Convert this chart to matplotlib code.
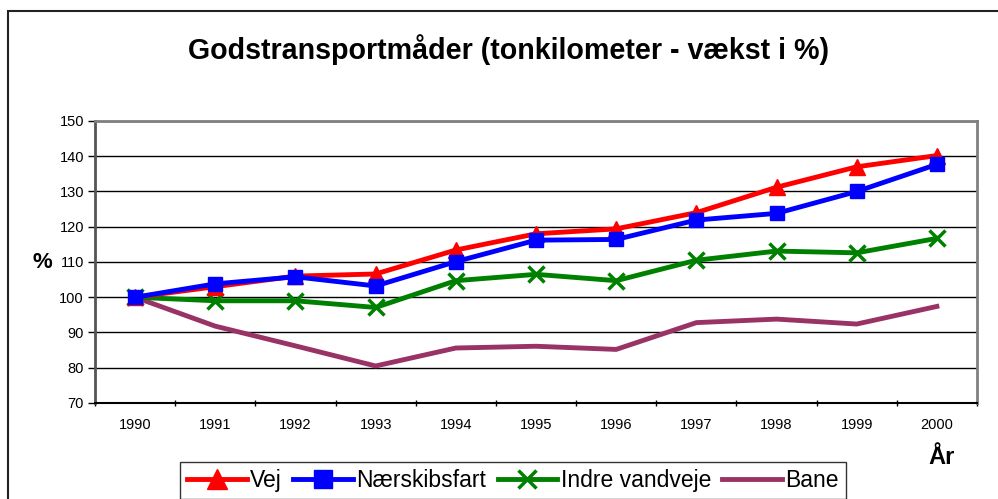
import numpy as np
import matplotlib.pyplot as plt
from matplotlib.patches import Rectangle

plt.rcParams['font.family'] = ['Liberation Sans', 'DejaVu Sans']

aar = ['1990', '1991', '1992', '1993', '1994', '1995', '1996', '1997', '1998', '1999', '2000']
vej = [100, 103.0, 106.0, 106.6, 113.4, 118.0, 119.4, 124.0, 131.2, 137.0, 140.2]
naerskibsfart = [100, 103.8, 105.8, 103.2, 110.1, 116.2, 116.4, 121.9, 123.8, 130.0, 137.7]
indre_vandveje = [100, 99.0, 99.0, 97.1, 104.7, 106.5, 104.7, 110.5, 113.1, 112.6, 116.7]
bane = [100, 91.8, 86.2, 80.5, 85.6, 86.1, 85.2, 92.8, 93.8, 92.4, 97.4]

W, H = 998, 499
fig = plt.figure(figsize=(W / 100, H / 100), dpi=100)

# ydre ramme (kun venstre og top synlige)
fig.patches.append(Rectangle((8 / W, -0.1), 1.2, 1.1 - 11 / H, transform=fig.transFigure,
                             fill=False, edgecolor='#222222', linewidth=1.5))

ax = fig.add_axes([95 / W, 1 - 403 / H, (977 - 95) / W, (403 - 121) / H])
x = np.arange(len(aar))

ax.plot(x, vej, color='#ff0000', lw=3.5, marker='^', ms=12, label='Vej', zorder=4)
ax.plot(x, naerskibsfart, color='#0000ff', lw=3.5, marker='s', ms=10.5, label='Nærskibsfart', zorder=5)
ax.plot(x, indre_vandveje, color='#008000', lw=3.5, marker='x', ms=11, mew=2.5, label='Indre vandveje', zorder=3)
ax.plot(x, bane, color='#993366', lw=3.5, label='Bane', zorder=2)

ax.set_xlim(-0.5, len(aar) - 0.5)
ax.set_ylim(70, 150)
ax.set_yticks(np.arange(70, 151, 10))
ax.yaxis.grid(True, color='black', lw=1)
ax.set_axisbelow(True)

# tick-streger mellem kategorierne, labels i midten
ax.set_xticks(np.arange(-0.5, len(aar), 1))
ax.set_xticklabels([])
ax.set_xticks(x, minor=True)
ax.set_xticklabels(aar, minor=True)
ax.tick_params(axis='x', which='major', length=5, direction='inout', width=1)
ax.tick_params(axis='x', which='minor', length=0, pad=11, labelsize=10.5)
ax.tick_params(axis='y', length=5, width=1, labelsize=10.5, pad=3)

for side in ['top', 'right']:
    ax.spines[side].set_color('#808080')
    ax.spines[side].set_linewidth(2)
ax.spines['left'].set_color('#555555')
ax.spines['left'].set_linewidth(2)
ax.spines['bottom'].set_color('black')
ax.spines['bottom'].set_linewidth(1.5)

fig.text(509 / W, 1 - 50 / H, 'Godstransportmåder (tonkilometer - vækst i %)', ha='center', va='center',
         fontsize=20.6, fontweight='bold')
fig.text(42 / W, 1 - 262 / H, '%', ha='center', va='center', fontsize=16, fontweight='bold')
fig.text(942 / W, 1 - 457 / H, 'År', ha='center', va='center', fontsize=17, fontweight='bold')

leg = fig.legend(loc='upper center', bbox_to_anchor=(513 / W, 1 - 462 / H), ncol=4, fontsize=16.5,
                 frameon=True, fancybox=False, edgecolor='black', borderpad=0.3, handlelength=2.6,
                 handletextpad=0.15, columnspacing=0.5, borderaxespad=0, markerscale=1.2)
leg.get_frame().set_linewidth(1)

fig.savefig('out.png', dpi=100)
